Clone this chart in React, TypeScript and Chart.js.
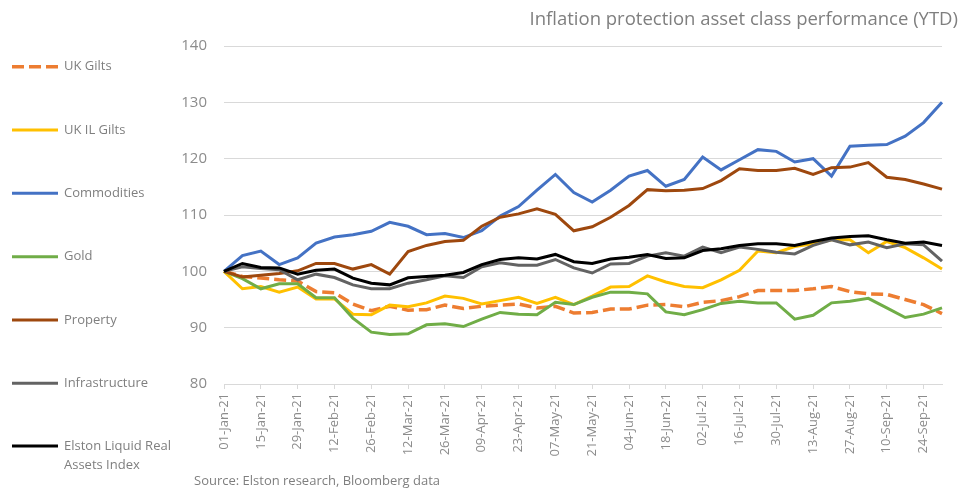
import React, { useEffect, useRef } from "react";
import { Chart, registerables } from "chart.js";

Chart.register(...registerables);

const dates: string[] = [
  "01-Jan-21", "08-Jan-21", "15-Jan-21", "22-Jan-21", "29-Jan-21", "05-Feb-21", "12-Feb-21", "19-Feb-21",
  "26-Feb-21", "05-Mar-21", "12-Mar-21", "19-Mar-21", "26-Mar-21", "02-Apr-21", "09-Apr-21", "16-Apr-21",
  "23-Apr-21", "30-Apr-21", "07-May-21", "14-May-21", "21-May-21", "28-May-21", "04-Jun-21", "11-Jun-21",
  "18-Jun-21", "25-Jun-21", "02-Jul-21", "09-Jul-21", "16-Jul-21", "23-Jul-21", "30-Jul-21", "06-Aug-21",
  "13-Aug-21", "20-Aug-21", "27-Aug-21", "03-Sep-21", "10-Sep-21", "17-Sep-21", "24-Sep-21", "01-Oct-21",
];

const ukGilts: number[] = [
  100, 99.1, 98.8, 98.5, 98.3, 96.4, 96.2, 94.2, 93.0, 93.8, 93.1, 93.2, 94.0, 93.4, 93.8, 94.0, 94.2, 93.5, 93.8, 92.6,
  92.7, 93.3, 93.3, 94.0, 94.1, 93.7, 94.5, 94.8, 95.5, 96.6, 96.6, 96.6, 96.9, 97.3, 96.4, 96.0, 95.9, 95.0, 94.1, 92.5,
];
const ukILGilts: number[] = [
  100, 96.9, 97.3, 96.3, 97.2, 95.1, 95.1, 92.4, 92.3, 94.0, 93.7, 94.4, 95.6, 95.2, 94.2, 94.8, 95.4, 94.3, 95.4, 94.1,
  95.6, 97.2, 97.3, 99.2, 98.1, 97.3, 97.1, 98.5, 100.2, 103.6, 103.3, 104.4, 104.9, 105.6, 105.6, 103.3, 105.3, 104.2, 102.4, 100.4,
];
const commodities: number[] = [
  100, 102.8, 103.6, 101.2, 102.4, 105.0, 106.1, 106.5, 107.1, 108.7, 108.0, 106.5, 106.7, 106.0, 107.2, 109.8, 111.5, 114.4, 117.2, 114.0,
  112.3, 114.4, 116.9, 117.9, 115.1, 116.3, 120.3, 118.0, 119.8, 121.6, 121.3, 119.4, 120.0, 116.9, 122.2, 122.4, 122.5, 124.0, 126.4, 130.0,
];
const gold: number[] = [
  100, 98.7, 96.9, 97.8, 97.8, 95.3, 95.3, 91.7, 89.2, 88.8, 88.9, 90.5, 90.7, 90.2, 91.5, 92.7, 92.4, 92.3, 94.5, 94.1,
  95.4, 96.3, 96.3, 96.0, 92.8, 92.3, 93.2, 94.3, 94.7, 94.4, 94.4, 91.5, 92.2, 94.4, 94.7, 95.2, 93.5, 91.8, 92.4, 93.5,
];
const property: number[] = [
  100, 99.0, 99.3, 99.6, 100.1, 101.4, 101.4, 100.4, 101.2, 99.5, 103.5, 104.6, 105.3, 105.5, 108.0, 109.6, 110.2, 111.1, 110.1, 107.2,
  107.9, 109.6, 111.7, 114.5, 114.3, 114.4, 114.7, 116.1, 118.2, 117.9, 117.9, 118.3, 117.2, 118.4, 118.5, 119.3, 116.7, 116.3, 115.5, 114.6,
];
const infrastructure: number[] = [
  100, 100.8, 100.5, 100.3, 98.5, 99.5, 98.9, 97.6, 96.9, 96.9, 97.9, 98.5, 99.2, 98.9, 100.8, 101.5, 101.1, 101.1, 102.1, 100.6,
  99.7, 101.3, 101.4, 102.7, 103.3, 102.7, 104.3, 103.3, 104.3, 103.9, 103.4, 103.1, 104.6, 105.6, 104.7, 105.2, 104.2, 104.9, 104.7, 101.8,
];
const elston: number[] = [
  100, 101.4, 100.7, 100.6, 99.5, 100.2, 100.4, 98.8, 97.9, 97.6, 98.85, 99.1, 99.3, 99.8, 101.2, 102.1, 102.4, 102.2, 103.0, 101.7,
  101.4, 102.2, 102.5, 103.0, 102.3, 102.4, 103.7, 104.0, 104.6, 104.9, 104.9, 104.6, 105.3, 105.9, 106.2, 106.3, 105.6, 105.0, 105.2, 104.6,
];

const seriesNames: string[] = [
  "UK Gilts", "UK IL Gilts", "Commodities", "Gold", "Property", "Infrastructure", "Elston Liquid Real Assets Index",
];
const seriesColors: string[] = ["#ED7D31", "#FFC000", "#4472C4", "#70AD47", "#9E480E", "#636363", "#000000"];
const seriesData: number[][] = [ukGilts, ukILGilts, commodities, gold, property, infrastructure, elston];

const yTicks: number[] = [80, 90, 100, 110, 120, 130, 140];

const titleText = "Inflation protection asset class performance (YTD)";
const sourceText = "Source: Elston research, Bloomberg data";

const FONT = "'Open Sans', 'Noto Sans', sans-serif";
const TEXT_GREY = "#7f7f7f";

const legendPlugin = {
  id: "sideLegend",
  afterDraw(chart: any) {
    const ctx = chart.ctx as CanvasRenderingContext2D;
    ctx.save();
    const legendY = [66.7, 130, 193.3, 256.7, 320, 383.3, 446];
    seriesNames.forEach((name, i) => {
      const y = legendY[i];
      ctx.beginPath();
      ctx.strokeStyle = seriesColors[i];
      ctx.lineWidth = i === 0 ? 3.5 : 3;
      ctx.setLineDash(i === 0 ? [12, 5] : []);
      ctx.moveTo(12, y);
      ctx.lineTo(58, y);
      ctx.stroke();
      ctx.setLineDash([]);
      ctx.fillStyle = TEXT_GREY;
      ctx.font = `13px ${FONT}`;
      ctx.textAlign = "left";
      ctx.textBaseline = "middle";
      if (i === 6) {
        ctx.fillText("Elston Liquid Real", 64, y);
        ctx.fillText("Assets Index", 64, y + 19);
      } else {
        ctx.fillText(name, 64, y);
      }
    });
    ctx.font = `18.5px ${FONT}`;
    ctx.textAlign = "right";
    ctx.textBaseline = "middle";
    ctx.fillText(titleText, 958, 20);
    ctx.font = `13px ${FONT}`;
    ctx.textAlign = "left";
    ctx.fillText(sourceText, 194, 481);
    ctx.restore();
  },
};

export default function App() {
  const canvasRef = useRef<HTMLCanvasElement | null>(null);

  useEffect(() => {
    if (!canvasRef.current) return;
    const chart = new Chart(canvasRef.current, {
      type: "line",
      data: {
        labels: dates,
        datasets: seriesNames.map((name, i) => ({
          label: name,
          data: seriesData[i],
          borderColor: seriesColors[i],
          backgroundColor: seriesColors[i],
          borderWidth: i === 0 ? 3.5 : 3,
          borderDash: i === 0 ? [12, 5] : [],
          pointRadius: 0,
          tension: 0,
          fill: false,
          order: 6 - i,
        })),
      },
      options: {
        animation: false,
        responsive: true,
        maintainAspectRatio: false,
        layout: { padding: { left: 160, right: 24, top: 46, bottom: 0 } },
        plugins: {
          legend: { display: false },
          title: { display: false },
          tooltip: { enabled: false },
        },
        scales: {
          x: {
            type: "category",
            offset: false,
            border: { display: true, color: "#d9d9d9", width: 1 },
            grid: {
              drawOnChartArea: false,
              drawTicks: true,
              tickLength: 5,
              tickColor: "#d9d9d9",
            },
            ticks: {
              autoSkip: false,
              minRotation: 90,
              maxRotation: 90,
              padding: 4,
              color: "#8c8c8c",
              font: { family: FONT, size: 13 },
              callback: (_v: any, idx: number) => (idx % 2 === 0 ? dates[idx] : null),
            },
            afterFit: (s: any) => {
              s.height = 106;
            },
          },
          y: {
            min: yTicks[0],
            max: yTicks[yTicks.length - 1],
            border: { display: false },
            grid: { color: "#d9d9d9", lineWidth: 1, drawTicks: false },
            afterBuildTicks: (s: any) => {
              s.ticks = yTicks.map((v) => ({ value: v }));
            },
            ticks: {
              padding: 17,
              color: "#8c8c8c",
              font: { family: FONT, size: 15 },
            },
            afterFit: (s: any) => {
              s.width = 64;
            },
          },
        },
      },
      plugins: [legendPlugin],
    });
    return () => chart.destroy();
  }, []);

  return (
    <div style={{ position: "absolute", left: 0, top: 0, width: 966, height: 490, background: "#fff" }}>
      <canvas ref={canvasRef} />
    </div>
  );
}
